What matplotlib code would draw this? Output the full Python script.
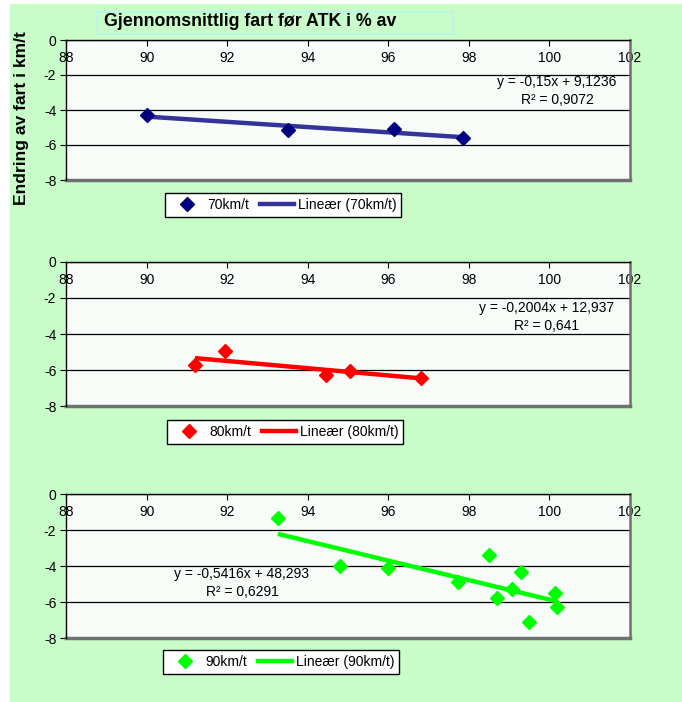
import matplotlib
matplotlib.use('Agg')
import numpy as np
from matplotlib import pyplot as plt
from matplotlib.lines import Line2D
from matplotlib.patches import Rectangle

plt.rcParams['font.family'] = ['Liberation Sans', 'DejaVu Sans']
plt.rcParams['axes.unicode_minus'] = False

# data
x70 = [90.0, 93.5, 96.15, 97.85]
y70 = [-4.3, -5.15, -5.1, -5.6]
x80 = [91.2, 91.95, 94.45, 95.05, 96.8]
y80 = [-5.7, -4.95, -6.25, -6.05, -6.45]
x90 = [93.26, 94.8, 96.0, 97.73, 98.5, 98.7, 99.07, 99.3, 99.5, 100.15, 100.2]
y90 = [-1.35, -4.0, -4.1, -4.9, -3.4, -5.8, -5.25, -4.35, -7.1, -5.5, -6.3]

# trendline coefficients as printed on the chart
slopes = [-0.15, -0.2004, -0.5416]
intercepts = [9.1236, 12.937, 48.293]
eq_labels = ['y = -0,15x + 9,1236\nR² = 0,9072',
             'y = -0,2004x + 12,937\nR² = 0,641',
             'y = -0,5416x + 48,293\nR² = 0,6291']
series_names = ['70km/t', '80km/t', '90km/t']
xticks = [88, 90, 92, 94, 96, 98, 100, 102]
yticks = [0, -2, -4, -6, -8]

W, H = 682, 702
bg = '#c8fcc8'

fig = plt.figure(figsize=(W / 100, H / 100), dpi=100)
fig.patch.set_facecolor('white')
fig.patches.append(Rectangle((10 / W, 0), 1 - 10 / W, 1 - 4 / H,
                             transform=fig.transFigure, facecolor=bg,
                             edgecolor='none', zorder=-10))

# panel boxes in pixels: (top, bottom)
panels = [(40, 180), (262, 406), (494, 638)]
left_px, right_px = 66, 630
legend_pos = [(165, 193), (167, 420), (163, 650)]
eq_pos = [(557, 91), (547, 317), (242, 583)]

mcol = ['#000080', '#ff0000', '#00ff00']
lcol = ['#333399', '#ff0000', '#00ff00']
xs = [x70, x80, x90]
ys = [y70, y80, y90]

for i in range(3):
    top, bot = panels[i]
    ax = fig.add_axes([left_px / W, 1 - bot / H, (right_px - left_px) / W, (bot - top) / H])
    ax.set_facecolor('#f8fcf8')
    ax.set_xlim(88, 102)
    ax.set_ylim(-8, 0)
    ax.set_xticks(xticks)
    ax.set_yticks(yticks)
    ax.spines['bottom'].set_position(('data', 0))
    ax.spines['top'].set_visible(False)
    ax.spines['right'].set_color('#707070')
    ax.spines['right'].set_linewidth(1.8)
    ax.spines['left'].set_linewidth(1.0)
    ax.spines['bottom'].set_linewidth(1.0)
    ax.axhline(-8, color='#707070', lw=2.5, clip_on=False, zorder=1)
    ax.yaxis.grid(True, color='black', lw=0.9)
    ax.set_axisbelow(True)
    ax.tick_params(axis='x', direction='out', length=4, labelsize=10, pad=4)
    ax.tick_params(axis='y', direction='out', length=4, labelsize=10, pad=3)

    x = np.array(xs[i])
    y = np.array(ys[i])
    xl = np.array([x.min(), x.max()])
    ax.plot(xl, slopes[i] * xl + intercepts[i], color=lcol[i], lw=3.2, zorder=3,
            solid_capstyle='butt')
    ax.plot(x, y, 'D', color=mcol[i], ms=7.5, zorder=4, clip_on=False)

    ex, ey = eq_pos[i]
    fig.text(ex / W, 1 - ey / H, eq_labels[i], ha='center', va='center',
             multialignment='center', fontsize=10, linespacing=1.35)

    handles = [Line2D([], [], marker='D', color=mcol[i], ls='none', ms=7.5),
               Line2D([], [], color=lcol[i], lw=3.2)]
    lx, ly = legend_pos[i]
    fig.legend(handles, [series_names[i], 'Lineær (%s)' % series_names[i]],
               loc='upper left', bbox_to_anchor=(lx / W, 1 - ly / H), ncol=2,
               fontsize=10, frameon=True, fancybox=False, edgecolor='black',
               facecolor='white', framealpha=1, borderaxespad=0,
               handlelength=2.4, handletextpad=0.3, columnspacing=0.8,
               borderpad=0.35)

# title and axis label
fig.patches.append(Rectangle((97 / W, 1 - 34 / H), 356 / W, 22 / H,
                             transform=fig.transFigure, facecolor='none',
                             edgecolor='#b8f4ec', lw=1.2))
fig.text(104 / W, 1 - 21 / H, 'Gjennomsnittlig fart før ATK i % av',
         fontsize=12.8, fontweight='bold', ha='left', va='center')
fig.text(22 / W, 1 - 118 / H, 'Endring av fart i km/t', rotation=90,
         fontsize=12.6, fontweight='bold', ha='center', va='center')

fig.savefig('out.png', dpi=100, facecolor=fig.get_facecolor())
